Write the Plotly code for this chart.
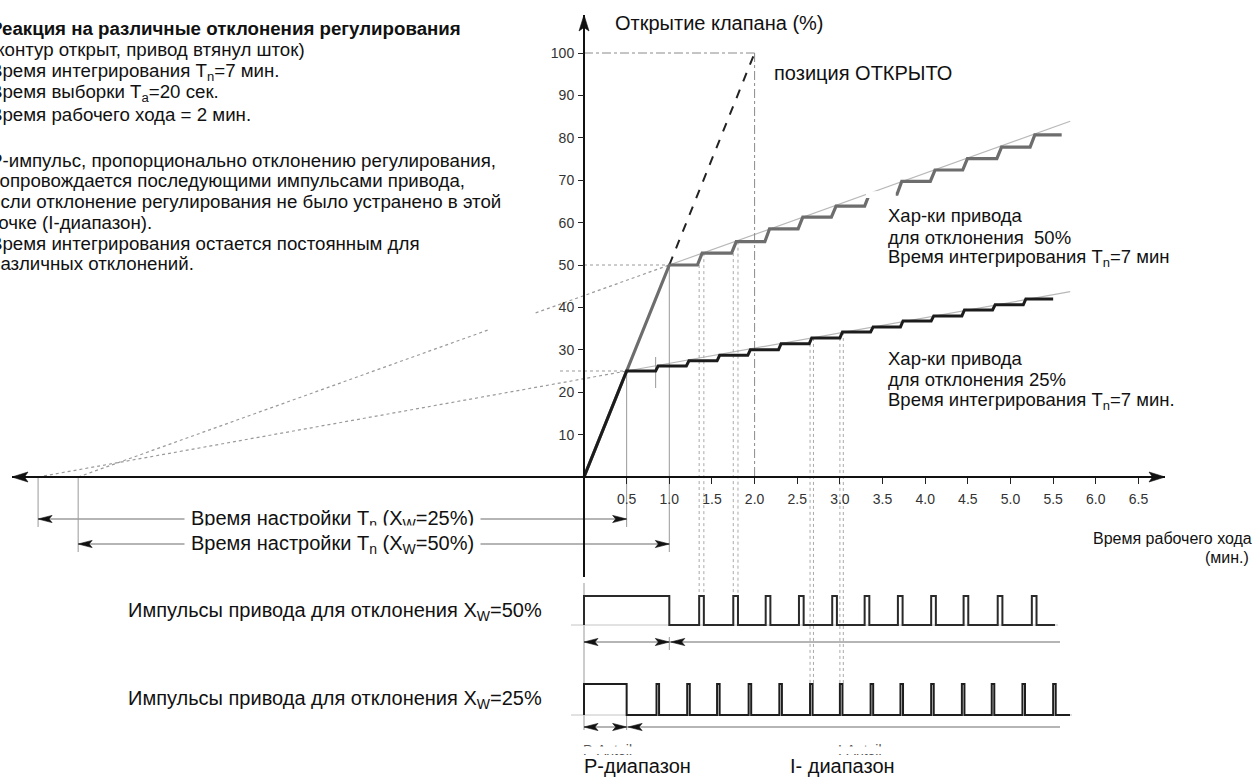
import plotly.graph_objects as go

# ---------------- canvas / scale (layout, not data) ----------------
W, H = 1256, 778
X0, Y0 = 584.0, 477.0      # pixel position of the origin (t=0, opening=0)
SX, SY = 85.3, 4.24        # pixels per minute, pixels per percent
FONT = "Liberation Sans, Arial, sans-serif"


def T(px):
    return (px - X0) / SX


def V(py):
    return (Y0 - py) / SY


# ---------------- data ----------------
x_tick_vals = [0.5, 1.0, 1.5, 2.0, 2.5, 3.0, 3.5, 4.0, 4.5, 5.0, 5.5, 6.0, 6.5]
x_tick_text = ["0.5", "1.0", "1.5", "2.0", "2.5", "3.0", "3.5", "4.0", "4.5", "5.0", "5.5", "6.0", "6.5"]
y_tick_vals = [10, 20, 30, 40, 50, 60, 70, 80, 90, 100]
y_tick_text = ["10", "20", "30", "40", "50", "60", "70", "80", "90", "100"]

# P-part (proportional jump) for each deviation
p_end_25, p_level_25 = 0.5, 25
p_end_50, p_level_50 = 1.0, 50
# full-open reference (running time 2 min)
full_open_t, full_open_y = 2.0, 100

# I-part staircases (step time, level after step)
step_t_25 = [0.84, 1.20, 1.56, 1.92, 2.28, 2.64, 3.00, 3.36, 3.71, 4.07, 4.43, 4.79, 5.15]
step_y_25 = [26.2, 27.4, 28.7, 30.0, 31.4, 32.8, 34.2, 35.4, 36.8, 38.0, 39.4, 40.6, 42.0]
end_t_25 = 5.50
step_t_50 = [1.33, 1.73, 2.12, 2.51, 2.90, 3.29, 3.67, 4.06, 4.44, 4.84, 5.23]
step_y_50 = [52.8, 55.5, 58.5, 61.3, 63.9, 66.7, 69.7, 72.4, 75.1, 77.8, 80.7]
end_t_50 = 5.60

# actuator pulses
pulse_t_25 = [0.85, 1.21, 1.56, 1.93, 2.29, 2.65, 3.00, 3.36, 3.71, 4.07, 4.43, 4.78, 5.14, 5.50]
pulse_t_50 = [1.35, 1.75, 2.13, 2.52, 2.91, 3.29, 3.68, 4.07, 4.45, 4.85, 5.25]
pulse_w_25 = 0.03
pulse_w_50 = 0.055

# integral-action reference lines (start on negative time axis = Tn)
ref_t_25 = [-6.40, 0.5, 5.70]
ref_y_25 = [0, 25, 43.7]
ref_t_50 = [-5.93, 1.0, 5.70]
ref_y_50 = [0, 50, 83.9]

# ---------------- layout levels (pixels) ----------------
Y_TN25, Y_TN50 = 519, 544
Y_P50_TOP, Y_P50_BASE, Y_P50_ARROW = 596, 625, 642
Y_P25_TOP, Y_P25_BASE, Y_P25_ARROW = 684, 715, 727

fig = go.Figure()


def add_lines(segs, color, width, dash="solid"):
    xs, ys = [], []
    for (xa, ya, xb, yb) in segs:
        xs += [xa, xb, None]
        ys += [ya, yb, None]
    fig.add_trace(go.Scatter(x=xs, y=ys, mode="lines", hoverinfo="skip",
                             line=dict(color=color, width=width, dash=dash)))


# reference (integration) lines
add_lines([(ref_t_25[0], ref_y_25[0], ref_t_25[1], ref_y_25[1]),
           (ref_t_50[0], ref_y_50[0], ref_t_50[1], ref_y_50[1])], "#9a9a9a", 1.2, "dot")
add_lines([(ref_t_25[1], ref_y_25[1], ref_t_25[2], ref_y_25[2]),
           (ref_t_50[1], ref_y_50[1], ref_t_50[2], ref_y_50[2])], "#b8b8b8", 1.2)

# dotted level guides
add_lines([(T(560), p_level_25, p_end_25, p_level_25),
           (0, p_level_50, p_end_50, p_level_50)], "#999999", 1, "dot")
# dash-dot full-open guides
add_lines([(0, full_open_y, full_open_t, full_open_y),
           (full_open_t, full_open_y, full_open_t, 0)], "#8a8a8a", 1, "dashdot")

# thin solid verticals
add_lines([(p_end_25, p_level_25, p_end_25, V(527)),
           (p_end_50, p_level_50, p_end_50, V(552)),
           (ref_t_25[0], 0, ref_t_25[0], V(527)),
           (ref_t_50[0], 0, ref_t_50[0], V(552)),
           (0, V(583), 0, V(730)),
           (p_end_50, V(637), p_end_50, V(650)),
           (p_end_25, V(715), p_end_25, V(730)),
           (step_t_25[0], V(388), step_t_25[0], V(357))], "#999999", 1)

# dotted connections from steps to pulses
conn = []
for i in (0, 1):
    lvl_before = p_level_50 if i == 0 else step_y_50[i - 1]
    conn.append((pulse_t_50[i], lvl_before, pulse_t_50[i], V(Y_P50_TOP)))
    conn.append((pulse_t_50[i] + pulse_w_50, step_y_50[i], pulse_t_50[i] + pulse_w_50, V(Y_P50_TOP)))
for i in (5, 6):
    conn.append((pulse_t_25[i], step_y_25[i - 1], pulse_t_25[i], V(Y_P25_TOP)))
    conn.append((pulse_t_25[i] + pulse_w_25 + 0.01, step_y_25[i], pulse_t_25[i] + pulse_w_25 + 0.01, V(Y_P25_TOP)))
add_lines(conn, "#a8a8a8", 1, "dot")

# dashed ramp to full open
add_lines([(p_end_50, p_level_50, full_open_t, full_open_y)], "#222222", 2, "dash")


def staircase(p_end, p_level, st, sy, rise, t_end):
    xs, ys = [0, p_end], [0, p_level]
    prev = p_level
    for t, y in zip(st, sy):
        xs += [t, t + rise]
        ys += [prev, y]
        prev = y
    xs.append(t_end)
    ys.append(prev)
    return xs, ys


x50, y50 = staircase(p_end_50, p_level_50, step_t_50, step_y_50, pulse_w_50, end_t_50)
fig.add_trace(go.Scatter(x=x50, y=y50, mode="lines", hoverinfo="skip",
                         line=dict(color="#6d6d6d", width=3.2)))
x25, y25 = staircase(p_end_25, p_level_25, step_t_25, step_y_25, pulse_w_25, end_t_25)
fig.add_trace(go.Scatter(x=x25, y=y25, mode="lines", hoverinfo="skip",
                         line=dict(color="#1c1c1c", width=3)))

# pulse rows
add_lines([(T(571), V(Y_P50_BASE), T(1058), V(Y_P50_BASE)),
           (T(571), V(Y_P25_BASE), T(1072), V(Y_P25_BASE))], "#c4c4c4", 1)


def pulse_train(p_end, times, w, t_end, base, top):
    xs, ys = [0, 0, p_end, p_end], [base, top, top, base]
    for t in times:
        xs += [t, t, t + w, t + w]
        ys += [base, top, top, base]
    xs.append(t_end)
    ys.append(base)
    return xs, ys


px50, py50 = pulse_train(p_end_50, pulse_t_50, pulse_w_50, T(1055), V(Y_P50_BASE), V(Y_P50_TOP))
fig.add_trace(go.Scatter(x=px50, y=py50, mode="lines", hoverinfo="skip",
                         line=dict(color="#2a2a2a", width=2)))
px25, py25 = pulse_train(p_end_25, pulse_t_25, pulse_w_25, T(1070), V(Y_P25_BASE), V(Y_P25_TOP))
fig.add_trace(go.Scatter(x=px25, y=py25, mode="lines", hoverinfo="skip",
                         line=dict(color="#1e1e1e", width=2)))

# arrow rows under pulses & Tn dimension lines
add_lines([(0, V(Y_P50_ARROW), p_end_50, V(Y_P50_ARROW)),
           (p_end_50, V(Y_P50_ARROW), T(1060), V(Y_P50_ARROW)),
           (0, V(Y_P25_ARROW), p_end_25, V(Y_P25_ARROW)),
           (p_end_25, V(Y_P25_ARROW), T(1060), V(Y_P25_ARROW)),
           (ref_t_25[0], V(Y_TN25), p_end_25, V(Y_TN25)),
           (ref_t_50[0], V(Y_TN50), p_end_50, V(Y_TN50))], "#9c9c9c", 1.5)

# main axes
add_lines([(T(12), 0, T(1165), 0),
           (0, V(577), 0, V(15))], "#111111", 2)

# arrowheads
hx, hy = [], []


def head(t, v, d, L=14.0, hh=3.6):
    dx, dy = L / SX, L / SY
    if d == "left":
        pts = [(t, v), (t + dx, v + hh / SY), (t + 0.78 * dx, v), (t + dx, v - hh / SY)]
    elif d == "right":
        pts = [(t, v), (t - dx, v + hh / SY), (t - 0.78 * dx, v), (t - dx, v - hh / SY)]
    else:  # up
        pts = [(t, v), (t - hh / SX, v - dy), (t, v - 0.78 * dy), (t + hh / SX, v - dy)]
    pts.append(pts[0])
    for a, b in pts:
        hx.append(a)
        hy.append(b)
    hx.append(None)
    hy.append(None)


head(T(12), 0, "left", 16, 5)
head(T(1165), 0, "right", 16, 5)
head(0, V(15), "up", 16, 5)
for (ta, tb, py) in [(ref_t_25[0], p_end_25, Y_TN25), (ref_t_50[0], p_end_50, Y_TN50),
                     (0, p_end_50, Y_P50_ARROW), (0, p_end_25, Y_P25_ARROW)]:
    head(ta, V(py), "left")
    head(tb, V(py), "right")
head(p_end_50 + 1.5 / SX, V(Y_P50_ARROW), "left")
head(p_end_25 + 1.5 / SX, V(Y_P25_ARROW), "left")
fig.add_trace(go.Scatter(x=hx, y=hy, mode="lines", fill="toself", fillcolor="#111111",
                         hoverinfo="skip", line=dict(color="#111111", width=0.6)))

# partially hidden labels (only the top of the glyphs is visible)
fig.add_trace(go.Scatter(x=[T(583), T(838)], y=[V(751), V(751)], mode="text",
                         text=["P-Anteil", "I-Anteil"], textposition="middle right",
                         hoverinfo="skip", textfont=dict(family=FONT, size=14, color="#555555")))

# ---------------- white masks ----------------
shapes = [
    dict(type="rect", xref="x", yref="y", x0=3.305, x1=3.655, y0=65.8, y1=67.4,
         fillcolor="white", line=dict(width=0), layer="above"),
    dict(type="rect", xref="x", yref="y", x0=-1.12, x1=-0.58, y0=33.0, y1=40.0,
         fillcolor="white", line=dict(width=0), layer="above"),
    dict(type="rect", xref="x", yref="y", x0=T(575), x1=T(940), y0=V(754), y1=V(746.5),
         fillcolor="white", line=dict(width=0), layer="above"),
]

# ---------------- texts ----------------
ann = []


def txt(s, px, py, size, xanchor="left", color="#111111", **kw):
    ann.append(dict(text=s, x=px / W, y=1 - py / H, xref="paper", yref="paper",
                    xanchor=xanchor, yanchor="middle", showarrow=False,
                    align=xanchor if xanchor != "center" else "center",
                    font=dict(family=FONT, size=size, color=color), **kw))


title_lines = [
    ("<b>Реакция на различные отклонения регулирования</b>", 29),
    ("(контур открыт, привод втянул шток)", 50),
    ("Время интегрирования T<sub>n</sub>=7 мин.", 72),
    ("Время выборки T<sub>a</sub>=20 сек.", 93),
    ("Время рабочего хода = 2 мин.", 115),
    ("P-импульс, пропорционально отклонению регулирования,", 160),
    ("сопровождается последующими импульсами привода,", 180),
    ("если отклонение регулирования не было устранено в этой", 201),
    ("точке (I-диапазон).", 222),
    ("Время интегрирования остается постоянным для", 243),
    ("различных отклонений.", 263),
]
for s, py in title_lines:
    txt(s, -12, py, 18.7)

txt("Открытие клапана (%)", 613, 23, 20)
txt("позиция ОТКРЫТО", 772, 73, 20)

for s, py in [("Хар-ки привода", 215), ("для отклонения  50%", 237),
              ("Время интегрирования T<sub>n</sub>=7 мин", 258)]:
    txt(s, 886, py, 18.5)
for s, py in [("Хар-ки привода", 358), ("для отклонения 25%", 380),
              ("Время интегрирования T<sub>n</sub>=7 мин.", 401)]:
    txt(s, 886, py, 18.5)

txt("Время настройки T<sub>n</sub> (X<sub>W</sub>=25%)", 184, Y_TN25, 20,
    bgcolor="white", borderpad=6)
txt("Время настройки T<sub>n</sub> (X<sub>W</sub>=50%)", 184, Y_TN50, 20,
    bgcolor="white", borderpad=6)

txt("Время рабочего хода", 1254, 538, 16, xanchor="right")
txt("(мин.)", 1251, 557, 16, xanchor="right")

txt("Импульсы привода для отклонения X<sub>W</sub>=50%", 544, 611, 20, xanchor="right")
txt("Импульсы привода для отклонения X<sub>W</sub>=25%", 544, 699, 20, xanchor="right")

txt("P-диапазон", 582, 766, 20)
txt("I- диапазон", 788, 766, 20)

fig.update_layout(
    width=W, height=H,
    margin=dict(l=0, r=0, t=0, b=0),
    paper_bgcolor="white", plot_bgcolor="white",
    showlegend=False,
    shapes=shapes,
    annotations=ann,
    xaxis=dict(range=[T(0), T(W)], fixedrange=True, showgrid=False, zeroline=False, showline=False,
               anchor="free", position=(H - Y0) / H,
               tickmode="array", tickvals=x_tick_vals, ticktext=x_tick_text,
               ticks="outside", ticklen=6, tickwidth=1.3, tickcolor="#222222",
               ticklabelstandoff=3,
               tickfont=dict(family=FONT, size=14, color="#333333")),
    yaxis=dict(range=[V(H), V(0)], fixedrange=True, showgrid=False, zeroline=False, showline=False,
               anchor="free", position=X0 / W,
               tickmode="array", tickvals=y_tick_vals, ticktext=y_tick_text,
               ticks="outside", ticklen=6, tickwidth=1.3, tickcolor="#222222",
               ticklabelstandoff=1,
               tickfont=dict(family=FONT, size=14, color="#333333")),
)

fig.write_html("out.html",
               config={"displayModeBar": False},
               post_script="document.body.style.margin='0px';document.body.style.padding='0px';")
